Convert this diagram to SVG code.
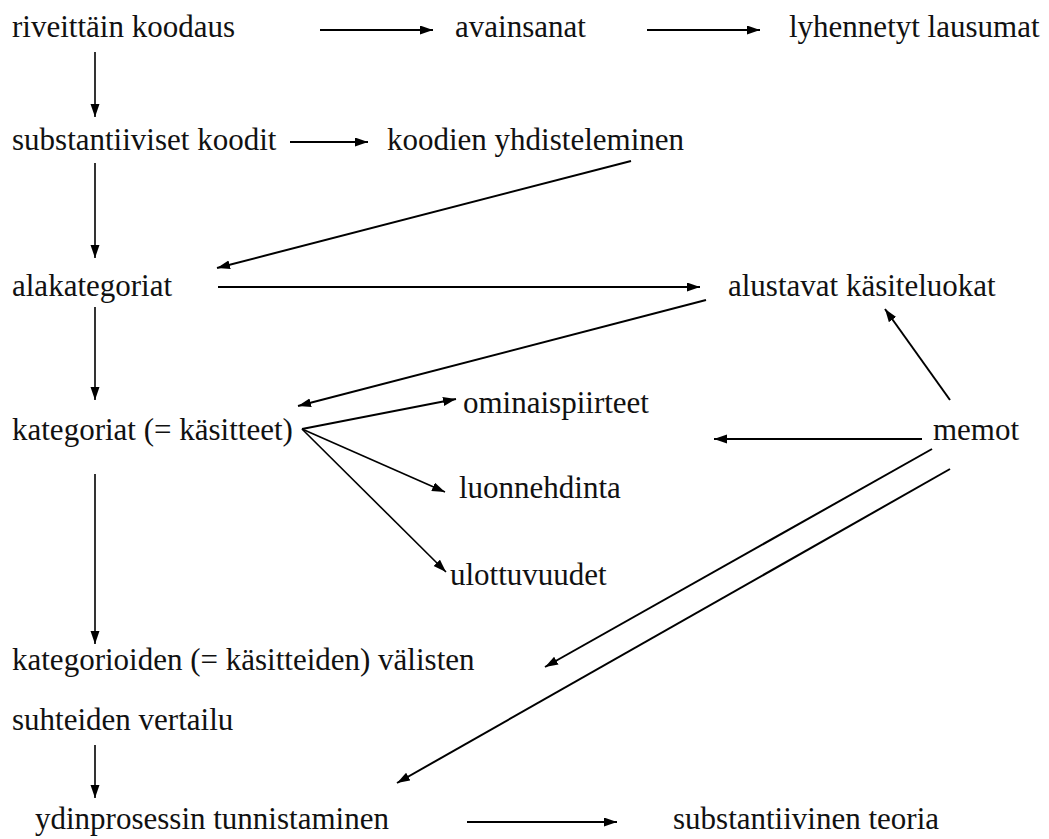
<svg xmlns="http://www.w3.org/2000/svg" width="1049" height="839" viewBox="0 0 1049 839">
<defs>
<marker id="ah" markerUnits="userSpaceOnUse" markerWidth="14" markerHeight="10" refX="13" refY="4.5" orient="auto">
<path d="M0,0 L13,4.5 L0,9 z" fill="#000"/>
</marker>
<style>
.c line{stroke:#000;stroke-width:1.6;marker-end:url(#ah)}
.c line.h{stroke-width:2}
</style>
</defs>
<rect width="1049" height="839" fill="#fff"/>
<g font-family="'Liberation Serif', 'Times New Roman', serif" font-size="31" fill="#111">
<g id="n-riveittain"><text x="12" y="37">riveittäin koodaus</text></g>
<g id="n-avainsanat"><text x="455" y="37">avainsanat</text></g>
<g id="n-lyhennetyt"><text x="789" y="37">lyhennetyt lausumat</text></g>
<g id="n-substantiiviset"><text x="12" y="150">substantiiviset koodit</text></g>
<g id="n-koodien"><text x="387" y="150">koodien yhdisteleminen</text></g>
<g id="n-alakategoriat"><text x="12" y="296">alakategoriat</text></g>
<g id="n-alustavat"><text x="728" y="296">alustavat käsiteluokat</text></g>
<g id="n-kategoriat"><text x="12" y="440">kategoriat (= käsitteet)</text></g>
<g id="n-ominaispiirteet"><text x="463" y="413">ominaispiirteet</text></g>
<g id="n-memot"><text x="933" y="440">memot</text></g>
<g id="n-luonnehdinta"><text x="459" y="498">luonnehdinta</text></g>
<g id="n-ulottuvuudet"><text x="450" y="585">ulottuvuudet</text></g>
<g id="n-vertailu"><text x="12" y="670">kategorioiden (= käsitteiden) välisten</text><text x="12" y="730">suhteiden vertailu</text></g>
<g id="n-ydinprosessin"><text x="35" y="829">ydinprosessin tunnistaminen</text></g>
<g id="n-teoria"><text x="673" y="829">substantiivinen teoria</text></g>
</g>
<g class="c" id="connectors">
<line class="h" x1="320" y1="30" x2="433" y2="30"/>
<line class="h" x1="647" y1="30" x2="760" y2="30"/>
<line x1="95" y1="52" x2="95" y2="117"/>
<line class="h" x1="290" y1="142" x2="368" y2="142"/>
<line x1="95" y1="163" x2="95" y2="258"/>
<line class="h" x1="631" y1="161" x2="217" y2="268"/>
<line class="h" x1="218" y1="287" x2="700" y2="287"/>
<line x1="95" y1="307" x2="95" y2="400"/>
<line class="h" x1="706" y1="300" x2="298" y2="406"/>
<line class="h" x1="302" y1="429" x2="456" y2="399"/>
<line x1="302" y1="429" x2="445" y2="492"/>
<line x1="302" y1="429" x2="446" y2="572"/>
<line class="h" x1="950" y1="400" x2="885" y2="309"/>
<line class="h" x1="922" y1="439" x2="714" y2="439"/>
<line class="h" x1="932" y1="449" x2="545" y2="667"/>
<line class="h" x1="950" y1="469" x2="397" y2="783"/>
<line x1="95" y1="745" x2="95" y2="798"/>
<line x1="95" y1="474" x2="95" y2="644"/>
<line class="h" x1="467" y1="822" x2="617" y2="822"/>
</g>
</svg>
